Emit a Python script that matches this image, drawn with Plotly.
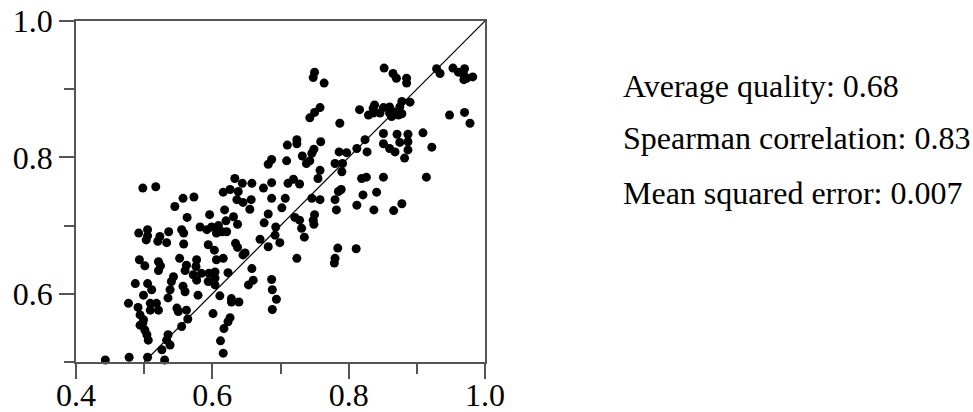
import plotly.graph_objects as go

pred_quality = [
    0.498,0.517,0.557,0.573,0.545,0.563,0.492,0.505,0.505,0.503,0.523,0.520,0.536,0.533,0.555,0.558,0.558,0.582,
    0.493,0.501,0.521,0.524,0.521,0.552,0.562,0.577,0.576,0.560,0.572,0.577,0.584,0.543,0.540,0.538,0.535,0.487,0.505,0.499,
    0.511,0.557,0.560,0.579,0.477,0.491,0.509,0.518,0.521,0.509,0.494,0.499,0.494,0.501,0.498,0.504,0.506,0.548,0.550,0.562,
    0.564,0.555,0.535,0.533,0.538,0.526,0.443,0.478,0.505,0.530,0.514,
    0.710,0.724,0.724,0.759,0.749,0.746,0.732,0.738,0.743,0.786,0.780,0.791,0.687,0.682,0.709,0.758,0.755,0.633,0.644,0.658,
    0.626,0.616,0.638,0.675,0.687,0.711,0.719,0.728,0.636,0.645,0.657,0.655,0.687,0.707,0.702,0.746,0.758,0.780,0.785,0.789,
    0.782,0.596,0.618,0.631,0.620,0.637,0.599,0.609,0.614,0.621,0.606,0.592,0.682,0.676,0.693,0.721,0.728,0.750,0.748,0.749,
    0.731,0.735,0.692,0.670,0.699,0.682,0.634,0.637,0.648,0.594,0.603,0.784,
    0.616,0.606,0.645,0.724,0.780,0.779,0.595,0.604,0.604,0.623,0.594,0.604,0.658,0.660,0.653,0.687,0.688,0.694,0.688,0.611,
    0.628,0.628,0.639,0.601,0.626,0.623,0.617,0.612,0.616,
    0.750,0.748,0.764,0.758,0.750,0.743,0.787,
    0.852,0.865,0.870,0.885,0.885,0.929,0.934,0.953,0.961,0.970,0.969,0.973,0.982,0.969,0.816,0.829,0.836,0.836,0.838,0.851,
    0.846,0.860,0.860,0.863,0.865,0.875,0.878,0.878,0.890,0.873,0.948,0.970,0.978,
    0.851,0.871,0.887,0.909,0.824,0.812,0.827,0.797,0.851,0.860,0.868,0.875,0.887,0.887,0.882,0.922,0.790,0.819,0.826,0.851,
    0.914,0.841,0.821,0.812,0.837,0.866,0.878,0.811,
]
true_quality = [
    0.755,0.757,0.740,0.742,0.728,0.712,0.689,0.694,0.685,0.679,0.684,0.677,0.691,0.675,0.694,0.689,0.673,0.698,
    0.650,0.641,0.647,0.641,0.634,0.652,0.642,0.650,0.640,0.634,0.628,0.620,0.630,0.625,0.618,0.606,0.594,0.615,0.615,0.598,
    0.606,0.611,0.603,0.598,0.586,0.580,0.586,0.586,0.576,0.576,0.569,0.562,0.554,0.547,0.557,0.540,0.532,0.579,0.574,0.576,
    0.563,0.552,0.540,0.532,0.525,0.518,0.503,0.507,0.507,0.503,0.487,
    0.818,0.820,0.826,0.823,0.812,0.806,0.802,0.791,0.795,0.808,0.791,0.791,0.797,0.790,0.795,0.781,0.769,0.769,0.762,0.762,
    0.753,0.749,0.750,0.755,0.763,0.762,0.768,0.761,0.738,0.734,0.738,0.724,0.740,0.740,0.726,0.740,0.738,0.738,0.750,0.753,
    0.723,0.716,0.723,0.713,0.707,0.702,0.698,0.700,0.691,0.691,0.689,0.694,0.717,0.704,0.698,0.712,0.708,0.716,0.708,0.702,
    0.696,0.683,0.686,0.680,0.675,0.669,0.674,0.668,0.660,0.672,0.664,0.667,
    0.652,0.650,0.657,0.652,0.652,0.645,0.630,0.632,0.623,0.631,0.618,0.613,0.637,0.620,0.613,0.621,0.606,0.592,0.577,0.597,
    0.593,0.588,0.588,0.571,0.565,0.559,0.549,0.531,0.513,
    0.925,0.917,0.909,0.873,0.866,0.858,0.850,
    0.931,0.923,0.916,0.916,0.909,0.930,0.923,0.931,0.925,0.930,0.921,0.916,0.918,0.914,0.870,0.862,0.872,0.865,0.877,0.873,
    0.865,0.874,0.865,0.860,0.867,0.874,0.882,0.864,0.881,0.862,0.862,0.866,0.850,
    0.835,0.834,0.834,0.836,0.826,0.813,0.808,0.807,0.820,0.813,0.808,0.822,0.823,0.811,0.799,0.815,0.779,0.769,0.771,0.771,
    0.771,0.749,0.745,0.730,0.723,0.722,0.732,0.666,
]

diag_x = [0.5, 1.0]
diag_y = [0.5, 1.0]

x_major = [0.4, 0.6, 0.8, 1.0]
x_minor = [0.5, 0.7, 0.9]
y_major = [0.6, 0.8, 1.0]
y_minor = [0.5, 0.7, 0.9]

stats_lines = [
    "Average quality: 0.68",
    "Spearman correlation: 0.83",
    "Mean squared error: 0.007",
]
stats_y = [0.81, 0.656, 0.497]

FONT = "Liberation Serif"
AXCOL = "#555555"

fig = go.Figure()
fig.add_trace(go.Scatter(
    x=pred_quality, y=true_quality, mode="markers",
    marker=dict(color="black", size=9, line=dict(width=0)),
    cliponaxis=False, showlegend=False, hoverinfo="skip",
))
fig.add_trace(go.Scatter(
    x=diag_x, y=diag_y, mode="lines",
    line=dict(color="black", width=1.2), showlegend=False, hoverinfo="skip",
))

axis_common = dict(
    showgrid=False, zeroline=False, showline=True, linecolor=AXCOL, linewidth=1.5,
    mirror=True, ticks="outside", tickcolor=AXCOL, tickwidth=1.5, ticklen=15,
    tickfont=dict(family=FONT, size=32, color="black"), automargin=False,
)
fig.update_layout(
    width=973, height=412,
    margin=dict(l=76, r=488, t=21, b=50),
    paper_bgcolor="white", plot_bgcolor="white",
    xaxis=dict(range=[0.4, 1.0], tickmode="array", tickvals=x_major,
               ticktext=[f"{v:.1f}" for v in x_major], ticklabelstandoff=-11,
               minor=dict(tickmode="array", tickvals=x_minor, ticks="outside",
                          ticklen=10, tickcolor=AXCOL, tickwidth=1.5, showgrid=False),
               **axis_common),
    yaxis=dict(range=[0.5, 1.0], tickmode="array", tickvals=y_major,
               ticktext=[f"{v:.1f}" for v in y_major],
               minor=dict(tickmode="array", tickvals=y_minor, ticks="outside",
                          ticklen=10, tickcolor=AXCOL, tickwidth=1.5, showgrid=False),
               **axis_common),
    showlegend=False,
)
for txt, yy in zip(stats_lines, stats_y):
    fig.add_annotation(
        x=1.3325, y=yy, xref="paper", yref="paper", text=txt, showarrow=False,
        xanchor="left", yanchor="middle",
        font=dict(family=FONT, size=32, color="black"),
    )

fig.write_html("out.html")
